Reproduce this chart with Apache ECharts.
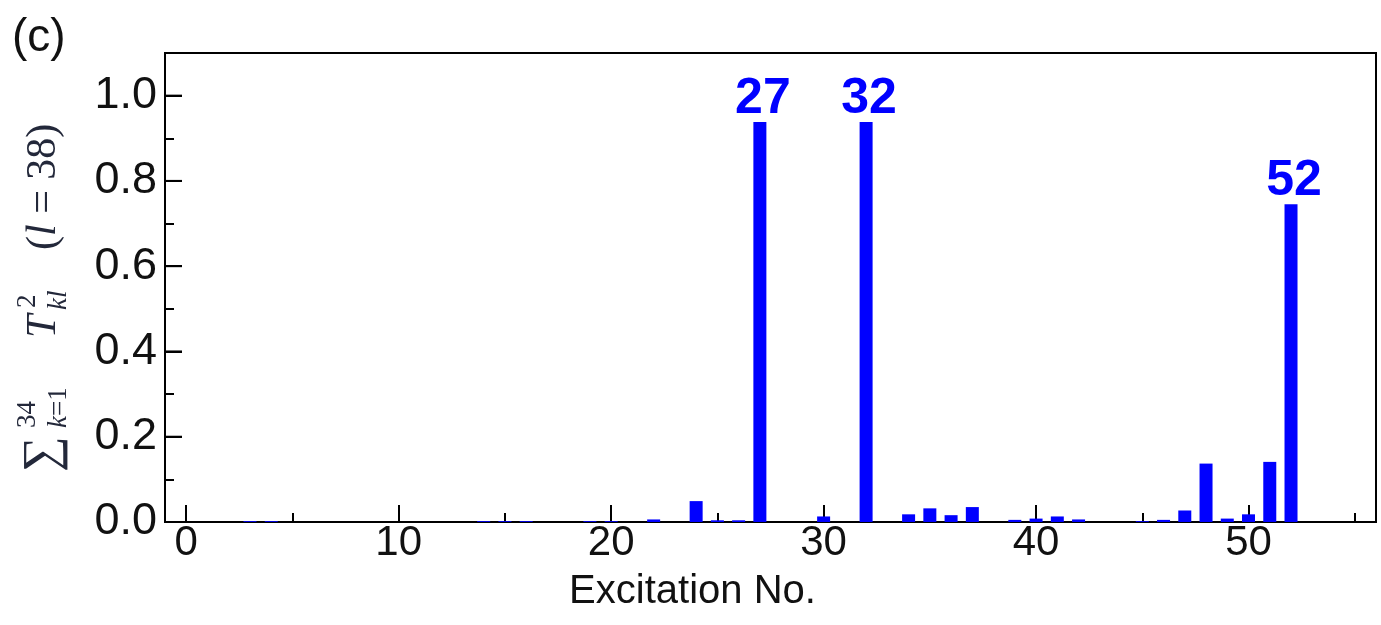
<!DOCTYPE html>
<html><head><meta charset="utf-8">
<script src="https://cdn.jsdelivr.net/npm/echarts@6/dist/echarts.min.js"></script>
<style>html,body{margin:0;padding:0;background:#fff}#c{width:1381px;height:625px}</style>
</head><body><div id="c"></div>
<script>
// ---- data ----
const excitationNo = [1,2,3,4,5,6,7,8,9,10,11,12,13,14,15,16,17,18,19,20,21,22,23,24,25,26,27,28,29,30,31,32,33,34,35,36,37,38,39,40,41,42,43,44,45,46,47,48,49,50,51,52,53,54,55];
const weights = [
  0, 0, 0.002, 0.002, 0, 0, 0, 0, 0, 0,
  0, 0, 0, 0.002, 0.002, 0.002, 0, 0, 0.002, 0.002,
  0, 0.006, 0, 0.049, 0.004, 0.004, 0.938, 0, 0, 0.013,
  0, 0.938, 0, 0.018, 0.032, 0.016, 0.035, 0, 0.005, 0.008,
  0.013, 0.006, 0, 0, 0.002, 0.005, 0.027, 0.137, 0.008, 0.018,
  0.141, 0.745, 0, 0, 0
];
const labeledExcitations = [27, 32, 52];
const xMajorTicks = [0, 10, 20, 30, 40, 50];
const xMinorTicks = [5, 15, 25, 35, 45, 55];
const yMajorTicks = [0, 0.2, 0.4, 0.6, 0.8, 1.0];
const yMinorTicks = [0.1, 0.3, 0.5, 0.7, 0.9];
const xTitle = 'Excitation No.';
const panelTag = '(c)';

// ---- chart ----
const SANS = '"Liberation Sans", Arial, Helvetica, sans-serif';
const SERIF = '"Liberation Serif", "DejaVu Serif", serif';
const BLUE = '#0000ff';
const chart = echarts.init(document.getElementById('c'), null, {renderer: 'canvas'});

const X_MIN = -1, X_MAX = 56, Y_MIN = 0, Y_MAX = 1.1;
const GRID = {left: 165, right: 5, top: 53, bottom: 103};
const MAJOR_LEN = 17, MINOR_LEN = 9;

const barData = excitationNo.map((n, i) => {
  const item = {value: [n, weights[i]]};
  if (labeledExcitations.includes(n)) {
    item.label = {show: true, formatter: String(n)};
  }
  return item;
});

const mkLine = () => ({color: '#000', width: 2});
const titleColor = '#23283a';

// helper: axis carrying only ticks at given values
const tickOnlyAxis = (type, min, max, pos, values, len) => ({
  type, min, max, position: pos,
  axisLine: {show: false, onZero: false},
  axisTick: {show: true, inside: true, length: len, lineStyle: mkLine(), customValues: values},
  axisLabel: {show: false}, splitLine: {show: false}
});

const option = {
  animation: false,
  backgroundColor: '#fff',
  grid: Object.assign({show: true, borderColor: '#000', borderWidth: 2,
         backgroundColor: 'transparent', containLabel: false, outerBoundsMode: 'none'}, GRID),
  xAxis: [
    {
      type: 'value', min: X_MIN, max: X_MAX, position: 'bottom',
      axisLine: {show: true, onZero: false, lineStyle: mkLine()},
      axisTick: {show: true, inside: true, length: MAJOR_LEN, lineStyle: mkLine(), customValues: xMajorTicks.slice()},
      axisLabel: {customValues: xMajorTicks.slice(), fontSize: 42, color: '#111', margin: 0, fontFamily: SANS},
      splitLine: {show: false},
      name: xTitle, nameLocation: 'middle', nameGap: 50,
      nameTextStyle: {fontSize: 40, color: '#111', fontFamily: SANS, padding: [0, 156, 0, 0]}
    },
    tickOnlyAxis('value', X_MIN, X_MAX, 'bottom', xMinorTicks.slice(), MINOR_LEN)
  ],
  yAxis: [
    {
      type: 'value', min: Y_MIN, max: Y_MAX, position: 'left',
      axisLine: {show: true, onZero: false, lineStyle: mkLine()},
      axisTick: {show: true, inside: true, length: MAJOR_LEN, lineStyle: mkLine(), customValues: yMajorTicks.slice()},
      axisLabel: {customValues: yMajorTicks.slice(), fontSize: 45, color: '#111', margin: 8, fontFamily: SANS,
                  backgroundColor: 'transparent', formatter: v => v.toFixed(1)},
      splitLine: {show: false}
    },
    tickOnlyAxis('value', Y_MIN, Y_MAX, 'left', yMinorTicks.slice(), MINOR_LEN)
  ],
  series: [
    {
      type: 'bar', xAxisIndex: 0, yAxisIndex: 0,
      barWidth: 13,
      itemStyle: {color: BLUE},
      label: {show: false, position: 'top', distance: -2, offset: [3, 0], color: BLUE, fontSize: 50, fontWeight: 'bold', fontFamily: SANS},
      data: barData
    },
    {
      // major y ticks drawn through the y scale, on a top layer
      type: 'custom', xAxisIndex: 0, yAxisIndex: 0, silent: true, clip: false,
      zlevel: 1, z: 100,
      dimensions: ['x', 'y'],
      encode: {x: 0, y: 1},
      data: yMajorTicks.map(v => [X_MIN, v]),
      renderItem: (params, api) => {
        const p = api.coord([api.value(0), api.value(1)]);
        return {
          type: 'line',
          shape: {x1: p[0], y1: p[1], x2: p[0] + MAJOR_LEN, y2: p[1]},
          style: {stroke: '#000', lineWidth: 2}
        };
      }
    }
  ],
  graphic: [
    {type: 'text', left: 12, top: 15, style: {text: panelTag, font: '46px ' + SANS, fill: '#111'}},
    {
      type: 'group', x: 44, y: 472, rotation: Math.PI / 2,
      children: [
        {type: 'text', x: 0, y: 0, style: {text: '∑', font: '50px ' + SERIF, fill: titleColor, verticalAlign: 'middle'}},
        {type: 'text', x: 44, y: -16, style: {text: '34', font: '27px ' + SERIF, fill: titleColor, verticalAlign: 'middle'}},
        {type: 'text', x: 44, y: 15, style: {rich: {i: {font: 'italic 27px ' + SERIF, fill: titleColor}, n: {font: '27px ' + SERIF, fill: titleColor}}, text: '{i|k}{n|=1}', verticalAlign: 'middle'}},
        {type: 'text', x: 134, y: 0, style: {text: 'T', font: 'italic 42px ' + SERIF, fill: titleColor, verticalAlign: 'middle'}},
        {type: 'text', x: 164, y: -16, style: {text: '2', font: '27px ' + SERIF, fill: titleColor, verticalAlign: 'middle'}},
        {type: 'text', x: 162, y: 15, style: {text: 'kl', font: 'italic 27px ' + SERIF, fill: titleColor, verticalAlign: 'middle'}},
        {type: 'text', x: 222, y: 0, style: {rich: {i: {font: 'italic 42px ' + SERIF, fill: titleColor}, n: {font: '42px ' + SERIF, fill: titleColor}}, text: '{n|(}{i|l}{n| = 38)}', verticalAlign: 'middle'}}
      ]
    }
  ]
};
chart.setOption(option);
</script>
</body></html>
